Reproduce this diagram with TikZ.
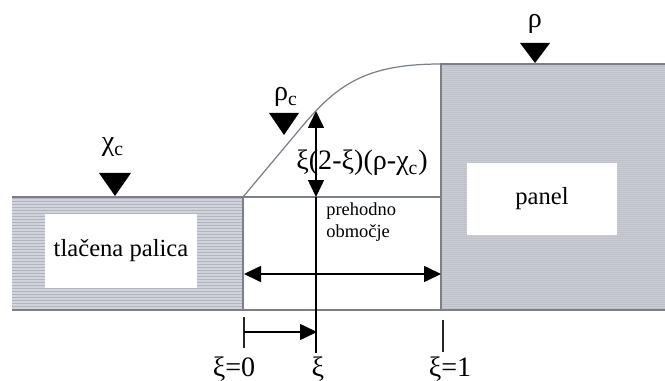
\documentclass[tikz,border=0pt]{standalone}
\usepackage{fontspec}
\setmainfont{Liberation Serif}
\usetikzlibrary{arrows.meta}
\definecolor{rodgray}{RGB}{176,181,191}
\definecolor{rodlight}{RGB}{208,211,217}
\definecolor{panelgray}{RGB}{190,193,201}
\definecolor{panellight}{RGB}{202,205,211}
\definecolor{edgegray}{RGB}{122,127,137}

\begin{document}
\begin{tikzpicture}[
    x=0.02cm, y=-0.02cm,
    >={Triangle[length=0.34cm, width=0.32cm]},
    rod/.style={fill=rodgray},
    plate/.style={fill=panelgray},
    stripe/.style={draw=rodlight, line width=0.7pt},
    grain/.style={draw=panellight, line width=0.4pt},
    edge/.style={draw=edgegray, line width=0.9pt},
    guide/.style={draw=edgegray, line width=0.7pt},
    box/.style={rectangle, fill=white, inner sep=0pt, font=\fontsize{14}{16}\selectfont},
    load/.style={fill=black},
    greek/.style={font=\fontsize{16}{18}\selectfont, inner sep=0pt},
    dim/.style={draw=black, line width=0.9pt},
    tick/.style={draw=black!85, line width=0.8pt}
]
  \useasboundingbox (0,0) rectangle (665,381);
  % Corner points of the rod, the transition zone and the panel.
  \coordinate (rodNW) at (12,197);
  \coordinate (xi0top) at (243,197);
  \coordinate (xi0bot) at (243,310);
  \coordinate (xi1top) at (441,197);
  \coordinate (xi1roof) at (441,64);
  \coordinate (xi1bot) at (441,310);
  \coordinate (panelNE) at (665,64);
  \coordinate (panelSE) at (665,310);

  % Hatched fills.
  \fill[rod] (rodNW) rectangle (xi0bot);
  \foreach \y in {200,203,...,308} {
    \draw[stripe] (12,\y) -- (243,\y);
  }
  \fill[plate] (xi1roof) rectangle (panelSE);
  \foreach \y in {67,69,...,308} {
    \draw[grain] (441,\y) -- (665,\y);
  }

  % Outlines.
  \draw[edge] (rodNW) -- (xi0top) -- (xi0bot);
  \draw[edge] (12,310) -- (xi0bot);
  \draw[guide] (xi0bot) -- (xi1bot);
  \draw[edge] (xi1bot) -- (xi1roof) -- (panelNE);
  \draw[edge] (xi1bot) -- (panelSE);
  \draw[guide] (xi0top) -- (xi1top);
  \draw[guide] (xi0top) -- (305,123) .. controls (340,82) and (370,64) .. (xi1roof);

  % Labels inside the rod and the panel.
  \node[box, minimum width=3.04cm, minimum height=1.5cm] (palica) at (121,251) {tlačena palica};
  \node[box, minimum width=3.0cm, minimum height=1.44cm] (panel) at (542,199) {panel};

  % Load markers.
  \coordinate (chiTip) at (115,196);
  \coordinate (rhocTip) at (284,135);
  \coordinate (rhoTip) at (535,63);
  \fill[load] (chiTip) -- ++(-16,-23) -- ++(32,0) -- cycle;
  \fill[load] (rhocTip) -- ++(-15,-22) -- ++(30,0) -- cycle;
  \fill[load] (rhoTip) -- ++(-15,-20) -- ++(30,0) -- cycle;
  \node[greek] (chiLab) at (113,147) {χ\textsubscript{c}};
  \node[greek] (rhocLab) at (286,97) {ρ\textsubscript{c}};
  \node[greek] (rhoLab) at (535,24) {ρ};

  % Height of the curve at xi.
  \coordinate (rise) at (316,111);
  \coordinate (riseBase) at (316,197);
  \coordinate (xiBot) at (316,353);
  \draw[dim, <->] (rise) -- (riseBase);
  \draw[dim] (riseBase) -- (xiBot);
  \node[greek] (riseLab) at (362,163) {ξ(2-ξ)(ρ-χ\textsubscript{c})};
  \node[anchor=north west, align=left, inner sep=0pt, font=\fontsize{10.5}{12.6}\selectfont]
    (zone) at (326,202) {prehodno\\območje};

  % Width of the transition zone.
  \coordinate (spanL) at (244,274);
  \coordinate (spanR) at (441,274);
  \draw[dim, <->] (spanL) -- (spanR);

  % Ticks and xi under the bar.
  \coordinate (tick0a) at (244,317);
  \coordinate (tick0b) at (244,348);
  \coordinate (tick1a) at (443,320);
  \coordinate (tick1b) at (443,352);
  \draw[tick] (tick0a) -- (tick0b);
  \draw[tick] (tick1a) -- (tick1b);
  \coordinate (xiFrom) at (244,332);
  \coordinate (xiTo) at (317,332);
  \draw[dim, ->] (xiFrom) -- (xiTo);
  \node[greek] (xi0Lab) at (234,369) {ξ=0};
  \node[greek] (xiLab) at (318,369) {ξ};
  \node[greek] (xi1Lab) at (450,369) {ξ=1};
\end{tikzpicture}
\end{document}
